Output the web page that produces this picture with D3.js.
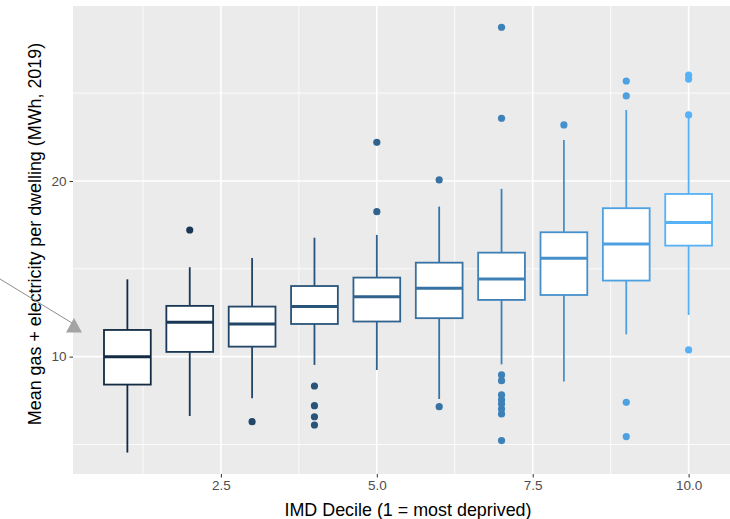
<!DOCTYPE html>
<html><head><meta charset="utf-8">
<script src="https://cdn.jsdelivr.net/npm/d3@7"></script>
<style>body{margin:0;background:#fff;}svg{display:block;font-family:"Liberation Sans",Arial,Helvetica,sans-serif;}</style>
</head><body>
<svg id="chart" width="730" height="519"></svg>
<script>
const deciles = [1,2,3,4,5,6,7,8,9,10];
const q3Values =      [11.52, 12.89, 12.85, 14.02, 14.50, 15.35, 15.92, 17.08, 18.45, 19.26];
const medianValues =  [10.00, 11.96, 11.86, 12.85, 13.41, 13.89, 14.42, 15.60, 16.41, 17.63];
const q1Values =      [ 8.41, 10.27, 10.57, 11.86, 12.00, 12.19, 13.23, 13.51, 14.33, 16.32];
const whiskerHigh =   [14.40, 15.09, 15.62, 16.77, 16.93, 18.54, 19.55, 22.33, 24.04, 23.60];
const whiskerLow =    [ 4.54,  6.62,  7.63,  9.53,  9.24,  7.59,  9.56,  8.58, 11.27, 12.37];
const outlierValues = [
  [],
  [17.21],
  [6.30],
  [8.33, 7.21, 6.58, 6.11],
  [18.25, 22.20],
  [20.06, 7.15],
  [28.75, 23.57, 8.96, 8.63, 7.82, 7.54, 7.31, 7.02, 6.74, 5.22],
  [23.19],
  [25.69, 24.84, 7.40, 5.45],
  [26.03, 25.80, 23.76, 10.38]
];
const xTicks = [2.5, 5.0, 7.5, 10.0];
const xTickLabels = ["2.5", "5.0", "7.5", "10.0"];
const xMinor = [1.25, 3.75, 6.25, 8.75];
const yTicks = [10, 20];
const yTickLabels = ["10", "20"];
const yMinor = [5, 15, 25];
const xTitle = "IMD Decile (1 = most deprived)";
const yTitle = "Mean gas + electricity per dwelling (MWh, 2019)";

const svg = d3.select("#chart");
const panel = {left: 73, right: 743, top: 6, bottom: 474};
const x = d3.scaleLinear().domain([0.128, 10.872]).range([panel.left, panel.right]);
const y = d3.scaleLinear().domain([3.32, 29.96]).range([panel.bottom, panel.top]);
const color = d3.scaleLinear().domain([1, 10]).range(["#132B43", "#56B1F7"]).interpolate(d3.interpolateLab);
const boxW = 0.75;

// panel background
svg.append("rect").attr("x", panel.left).attr("y", panel.top)
  .attr("width", panel.right - panel.left).attr("height", panel.bottom - panel.top)
  .attr("fill", "#EBEBEB");

const grid = svg.append("g");
grid.selectAll(".ymin").data(yMinor).join("line")
  .attr("x1", panel.left).attr("x2", panel.right)
  .attr("y1", d => y(d)).attr("y2", d => y(d))
  .attr("stroke", "#fff").attr("stroke-width", 0.8);
grid.selectAll(".xmin").data(xMinor).join("line")
  .attr("y1", panel.top).attr("y2", panel.bottom)
  .attr("x1", d => x(d)).attr("x2", d => x(d))
  .attr("stroke", "#fff").attr("stroke-width", 0.8);
grid.selectAll(".ymaj").data(yTicks).join("line")
  .attr("x1", panel.left).attr("x2", panel.right)
  .attr("y1", d => y(d)).attr("y2", d => y(d))
  .attr("stroke", "#fff").attr("stroke-width", 1.6);
grid.selectAll(".xmaj").data(xTicks).join("line")
  .attr("y1", panel.top).attr("y2", panel.bottom)
  .attr("x1", d => x(d)).attr("x2", d => x(d))
  .attr("stroke", "#fff").attr("stroke-width", 1.6);

// boxes
const boxes = svg.append("g").selectAll("g").data(deciles).join("g");
boxes.append("line")
  .attr("x1", d => x(d)).attr("x2", d => x(d))
  .attr("y1", (d, i) => y(whiskerHigh[i])).attr("y2", (d, i) => y(whiskerLow[i]))
  .attr("stroke", d => color(d)).attr("stroke-width", 1.8);
boxes.append("rect")
  .attr("x", d => x(d - boxW / 2)).attr("width", d => x(d + boxW / 2) - x(d - boxW / 2))
  .attr("y", (d, i) => y(q3Values[i])).attr("height", (d, i) => y(q1Values[i]) - y(q3Values[i]))
  .attr("fill", "#fff").attr("stroke", d => color(d)).attr("stroke-width", 1.8);
boxes.append("line")
  .attr("x1", d => x(d - boxW / 2)).attr("x2", d => x(d + boxW / 2))
  .attr("y1", (d, i) => y(medianValues[i])).attr("y2", (d, i) => y(medianValues[i]))
  .attr("stroke", d => color(d)).attr("stroke-width", 3);
boxes.each(function(d, i) {
  d3.select(this).selectAll("circle").data(outlierValues[i]).join("circle")
    .attr("cx", x(d)).attr("cy", v => y(v)).attr("r", 3.6)
    .attr("fill", color(d));
});

// axes
const xAxis = svg.append("g").attr("transform", `translate(0,${panel.bottom})`)
  .call(d3.axisBottom(x).tickValues(xTicks).tickFormat((d, i) => xTickLabels[i]).tickSize(3.5).tickPadding(3));
xAxis.select(".domain").remove();
xAxis.selectAll("line").attr("stroke", "#333").attr("stroke-width", 1);
xAxis.selectAll("text").attr("fill", "#4D4D4D").attr("font-size", "13.5px");

const yAxis = svg.append("g").attr("transform", `translate(${panel.left},0)`)
  .call(d3.axisLeft(y).tickValues(yTicks).tickFormat((d, i) => yTickLabels[i]).tickSize(3.5).tickPadding(3));
yAxis.select(".domain").remove();
yAxis.selectAll("line").attr("stroke", "#333").attr("stroke-width", 1);
yAxis.selectAll("text").attr("fill", "#4D4D4D").attr("font-size", "13.5px");

// titles
svg.append("text").attr("x", (panel.left + panel.right) / 2).attr("y", 516)
  .attr("text-anchor", "middle").attr("font-size", "17.9px").attr("fill", "#000").text(xTitle);
svg.append("text").attr("transform", `translate(41,${(panel.top + panel.bottom) / 2 - 6}) rotate(-90)`)
  .attr("text-anchor", "middle").attr("font-size", "17.9px").attr("fill", "#000").text(yTitle);

// annotation arrow
svg.append("line").attr("x1", 0).attr("y1", 279).attr("x2", 72).attr("y2", 323)
  .attr("stroke", "#8C8C8C").attr("stroke-width", 1);
svg.append("polygon").attr("points", "74,318 66,332.5 82,332.5").attr("fill", "#A3A3A3");
</script>
</body></html>
